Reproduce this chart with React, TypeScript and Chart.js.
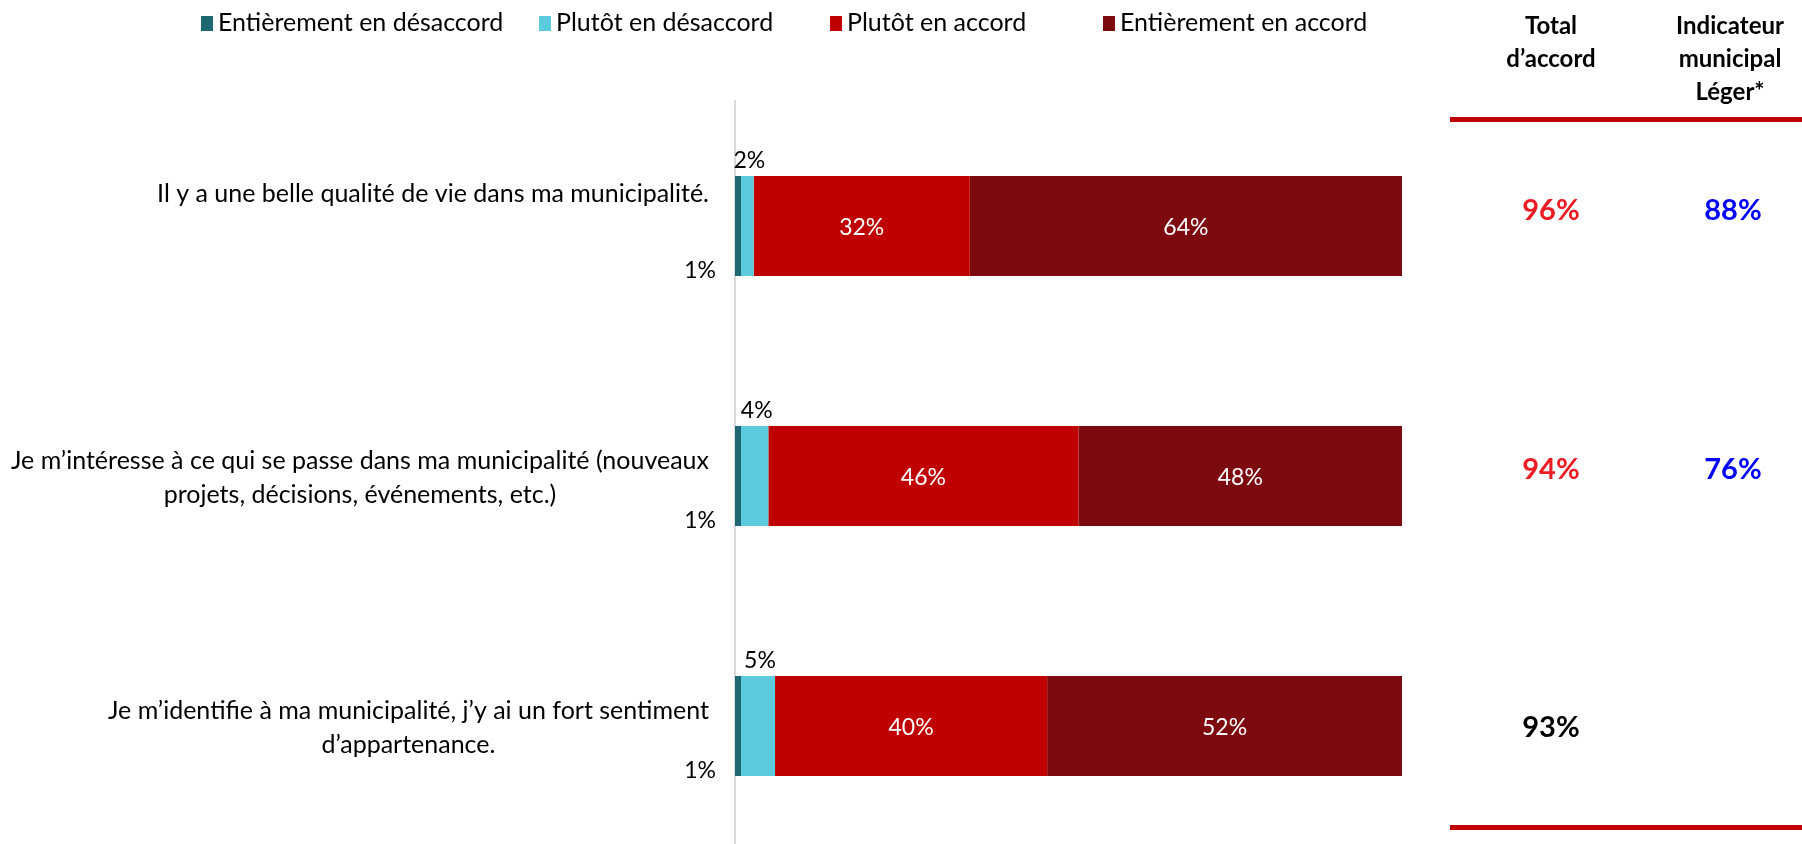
import React, { useEffect, useRef } from "react";
import { Chart, registerables } from "chart.js";

Chart.register(...registerables);

const categories: string[][] = [
  ["Il y a une belle qualité de vie dans ma municipalité.", "", ""],
  ["Je m’intéresse à ce qui se passe dans ma municipalité (nouveaux", "projets, décisions, événements, etc.)"],
  ["Je m’identifie à ma municipalité, j’y ai un fort sentiment", "d’appartenance."],
];

const seriesNames = [
  "Entièrement en désaccord",
  "Plutôt en désaccord",
  "Plutôt en accord",
  "Entièrement en accord",
];
const seriesColors = ["#1d6872", "#5bcbdd", "#c00000", "#7d0a0f"];

const stronglyDisagree = [0.9, 0.9, 0.9];
const somewhatDisagree = [1.9, 4.1, 5.1];
const somewhatAgree = [32.4, 46.5, 40.8];
const stronglyAgree = [64.8, 48.5, 53.2];

const stronglyDisagreeLabels = ["1%", "1%", "1%"];
const somewhatDisagreeLabels = ["2%", "4%", "5%"];
const somewhatAgreeLabels = ["32%", "46%", "40%"];
const stronglyAgreeLabels = ["64%", "48%", "52%"];

const totalHeader = ["Total", "d’accord"];
const indicatorHeader = ["Indicateur", "municipal", "Léger*"];
const totalAgree = ["96%", "94%", "93%"];
const totalAgreeColors = ["#ed1c24", "#ed1c24", "#000000"];
const indicator = ["88%", "76%", ""];
const indicatorColor = "#0000ff";

const FONT = "Lato, 'Open Sans', sans-serif";
const LEGEND_TEXT_X = [218, 556, 847, 1120];

const overlayPlugin = {
  id: "overlay",
  afterDraw(chart: any) {
    const ctx = chart.ctx as CanvasRenderingContext2D;
    ctx.save();
    ctx.textBaseline = "middle";

    // Legend
    ctx.font = `25px ${FONT}`;
    const ly = 23;
    seriesNames.forEach((name, i) => {
      const tx = LEGEND_TEXT_X[i];
      ctx.fillStyle = seriesColors[i];
      ctx.fillRect(tx - 17, ly - 7, 12, 15);
      ctx.fillStyle = "#000";
      ctx.textAlign = "left";
      ctx.fillText(name, tx, ly);
    });

    // Category labels (right-aligned block, centered lines)
    const yScale = chart.scales.y;
    const blockRight = 709;
    const lineH = 34;
    ctx.font = `25px ${FONT}`;
    categories.forEach((lines, i) => {
      const cy = yScale.getPixelForValue(i);
      const w = Math.max(...lines.map((l) => ctx.measureText(l).width));
      const cx = blockRight - w / 2;
      ctx.textAlign = "center";
      ctx.fillStyle = "#000";
      lines.forEach((l, j) => {
        const y = cy + (j - (lines.length - 1) / 2) * lineH + 2;
        ctx.fillText(l, cx, y);
      });
    });

    // Segment labels
    const m0 = chart.getDatasetMeta(0).data;
    const m1 = chart.getDatasetMeta(1).data;
    const m2 = chart.getDatasetMeta(2).data;
    const m3 = chart.getDatasetMeta(3).data;
    ctx.font = `23px ${FONT}`;
    m0.forEach((bar: any, i: number) => {
      const h = bar.height;
      ctx.fillStyle = "#000";
      ctx.textAlign = "right";
      ctx.fillText(stronglyDisagreeLabels[i], bar.base - 19, bar.y + h / 2 - 5);
    });
    m1.forEach((bar: any, i: number) => {
      const h = bar.height;
      ctx.fillStyle = "#000";
      ctx.textAlign = "center";
      ctx.fillText(somewhatDisagreeLabels[i], (bar.base + bar.x) / 2 + 2, bar.y - h / 2 - 15);
    });
    [
      [m2, somewhatAgreeLabels],
      [m3, stronglyAgreeLabels],
    ].forEach(([meta, labels]: any) => {
      meta.forEach((bar: any, i: number) => {
        ctx.fillStyle = "#fff";
        ctx.textAlign = "center";
        ctx.fillText(labels[i], (bar.base + bar.x) / 2, bar.y + 2);
      });
    });

    // Right columns
    const totalX = 1551;
    const indX = 1730;
    ctx.font = `bold 24px ${FONT}`;
    ctx.fillStyle = "#000";
    ctx.textAlign = "center";
    totalHeader.forEach((t, j) => ctx.fillText(t, totalX, 26 + j * 33));
    indicatorHeader.forEach((t, j) => ctx.fillText(t, indX, 26 + j * 33));

    ctx.fillStyle = "#c00000";
    ctx.fillRect(1450, 117, 352, 5);
    ctx.fillRect(1450, 825, 352, 5);

    ctx.font = `bold 29px ${FONT}`;
    totalAgree.forEach((t, i) => {
      const ry = 211 + i * 258.5;
      ctx.fillStyle = totalAgreeColors[i];
      ctx.fillText(t, totalX, ry);
      if (indicator[i]) {
        ctx.fillStyle = indicatorColor;
        ctx.fillText(indicator[i], indX + 3, ry);
      }
    });

    ctx.restore();
  },
};

export default function App() {
  const ref = useRef<HTMLCanvasElement | null>(null);
  useEffect(() => {
    if (!ref.current) return;
    const chart = new Chart(ref.current, {
      type: "bar",
      data: {
        labels: categories.map((c) => c.filter((l) => l).join(" ")),
        datasets: [stronglyDisagree, somewhatDisagree, somewhatAgree, stronglyAgree].map((d, i) => ({
          label: seriesNames[i],
          data: d,
          backgroundColor: seriesColors[i],
          borderWidth: 0,
          barPercentage: 0.4,
          categoryPercentage: 1,
        })),
      },
      options: {
        indexAxis: "y",
        animation: false,
        responsive: false,
        devicePixelRatio: 1,
        layout: { padding: { left: 735, right: 400, top: 101, bottom: 9 } },
        plugins: { legend: { display: false }, tooltip: { enabled: false } },
        scales: {
          x: { stacked: true, min: 0, max: 100, display: false },
          y: {
            stacked: true,
            grid: { display: false, drawTicks: false },
            border: { display: true, color: "#d9d9d9", width: 2 },
            ticks: { display: false },
            afterFit: (s: any) => {
              s.width = 0;
            },
          },
        },
      },
      plugins: [overlayPlugin],
    });
    return () => chart.destroy();
  }, []);
  return (
    <div
      style={{
        position: "fixed",
        left: 0,
        top: 0,
        width: 1802,
        height: 844,
        overflow: "hidden",
        background: "#fff",
      }}
    >
      <canvas ref={ref} width={1802} height={860} style={{ width: 1802, height: 860, display: "block" }} />
    </div>
  );
}
